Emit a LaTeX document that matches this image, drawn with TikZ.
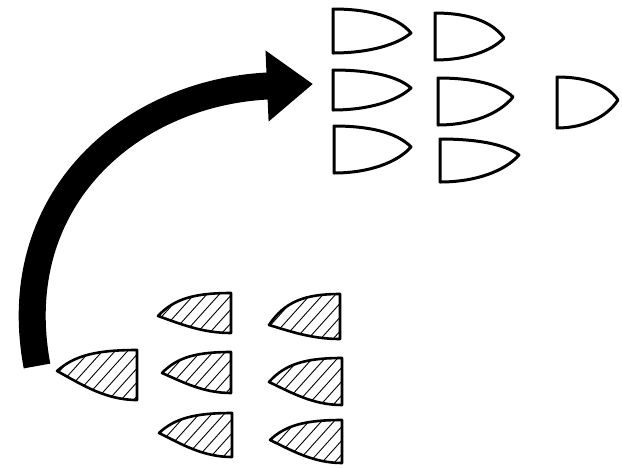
\documentclass[tikz,border=0pt]{standalone}
\usetikzlibrary{arrows.meta}

\tikzset{
  shell/.style={draw=black, line width=3pt, line join=round, fill=white},
  hatchshell/.style={draw=black, line width=2.6pt, line join=round},
  hatch/.style={draw=black, line width=0.9pt},
  bigarrow/.style={draw=black, line width=27pt, line cap=butt,
    -{Triangle[length=46pt,width=68pt]}}
}

% Plain shell pointing right: left edge x, top y, bottom y, tip x, tip y
\newcommand\plainshell[5]{%
  \draw[shell] (#1,#3) -- (#1,#2)
    .. controls ({#1+0.45*(#4-#1)},#2) and ({#1+0.82*(#4-#1)},{#2+0.3*(#5-#2)}) .. (#4,#5)
    .. controls ({#1+0.82*(#4-#1)},{#5+0.6*(#3-#5)}) and ({#1+0.45*(#4-#1)},#3) .. (#1,#3) -- cycle;}

% Hatched shell pointing left: right edge x, top y, bottom y, tip x, tip y
\newcommand\shellpath[5]{%
  (#4,#5) .. controls ({#4+0.22*(#1-#4)},{#2+0.25*(#5-#2)}) and ({#4+0.5*(#1-#4)},#2) .. (#1,#2)
  -- (#1,#3)
  .. controls ({#1-0.4*(#1-#4)},#3) and ({#4+0.3*(#1-#4)},{#5+0.45*(#3-#5)}) .. (#4,#5) -- cycle}
\newcommand\hatchedshell[5]{%
  \begin{scope}
    \clip \shellpath{#1}{#2}{#3}{#4}{#5};
    \foreach \k in {0,...,12}
      \draw[hatch] ({#4-70+\k*12.5},{#3+10}) -- ++(90,-100);
  \end{scope}
  \draw[hatchshell] \shellpath{#1}{#2}{#3}{#4}{#5};}

\begin{document}
\begin{tikzpicture}[x=1pt,y=-1pt]
  \useasboundingbox[fill=white] (0,0) rectangle (622,467);

  % formation after the move
  \plainshell{333}{9}{53}{411}{33}
  \plainshell{435}{13}{60}{504}{38}
  \plainshell{333}{70}{110}{411}{88}
  \plainshell{438}{78}{125}{513}{97}
  \plainshell{557}{77}{128}{618}{100}
  \plainshell{334}{126}{173}{411}{147}
  \plainshell{440}{139}{182}{519}{155}

  % formation before the move
  \hatchedshell{137}{350}{400}{57}{371}
  \hatchedshell{231}{293}{333}{158}{316}
  \hatchedshell{340}{294}{339}{269}{325}
  \hatchedshell{231}{352}{393}{162}{373}
  \hatchedshell{342}{358}{405}{269}{382}
  \hatchedshell{232}{413}{457}{159}{433}
  \hatchedshell{342}{420}{463}{270}{440}

  % the move
  \coordinate (arrowtail) at (37,366);
  \coordinate (arrowtip) at (313,84);
  \draw[bigarrow] (arrowtail) .. controls (6,200) and (130,92) .. (arrowtip);
\end{tikzpicture}
\end{document}
